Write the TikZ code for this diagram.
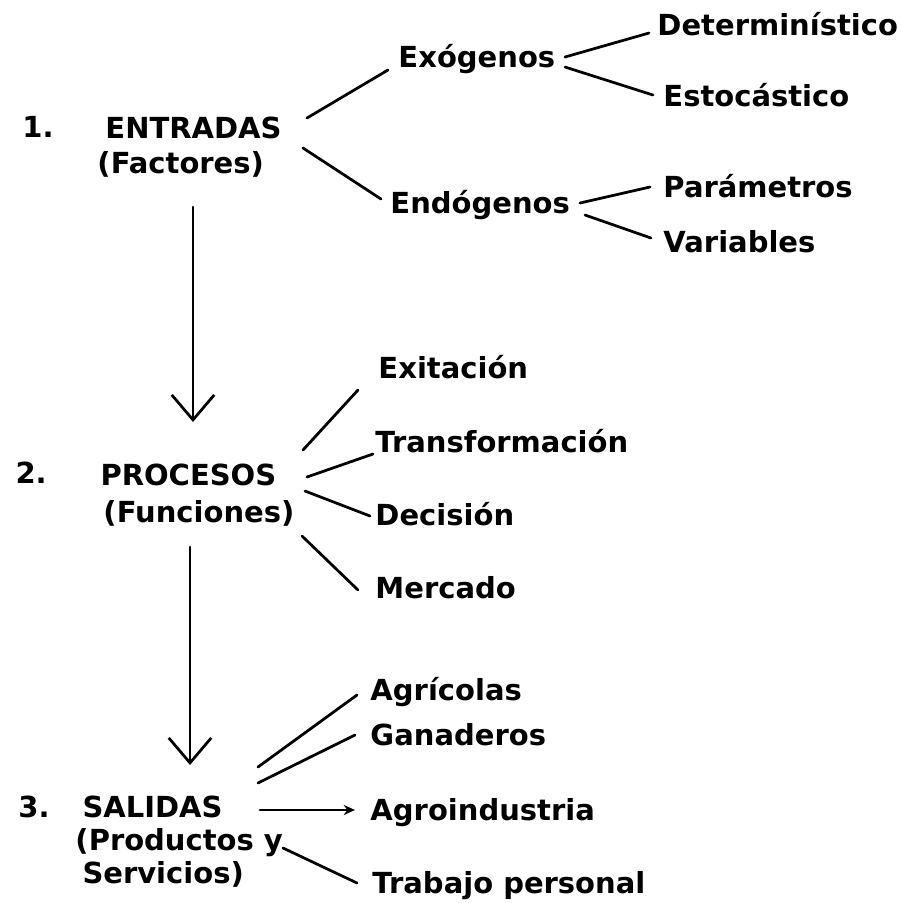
\documentclass[tikz,border=0pt]{standalone}
\usepackage{fontspec}
\setmainfont{DejaVu Sans}
\usepackage{tikz}
\usetikzlibrary{arrows.meta}

\tikzset{
	lbl/.style={anchor=base west, inner sep=0pt, font=\fontsize{11.6}{13}\selectfont\bfseries},
	ln/.style={line width=1.1pt, line cap=round},
	down/.style={ln, -{Straight Barb[length=10pt,width=17pt,line width=1.1pt]}},
	small/.style={ln, -{Stealth[length=4.5pt,width=4pt]}}
}

\begin{document}
\begin{tikzpicture}[x=0.4pt,y=-0.4pt]
			\useasboundingbox (0,0) rectangle (901,903);

			% 1. entradas
			\node[lbl] (n1) at (22,137) {1.};
			\node[lbl] (ent) at (105,138) {ENTRADAS};
			\node[lbl] (fac) at (97,173) {(Factores)};
			\node[lbl] (exo) at (398,67) {Exógenos};
			\node[lbl] (endo) at (390,213) {Endógenos};
			\node[lbl] (det) at (657,35) {Determinístico};
			\node[lbl] (est) at (663,106) {Estocástico};
			\node[lbl] (par) at (663,197) {Parámetros};
			\node[lbl] (var) at (663,252) {Variables};

			% 2. procesos
			\node[lbl] (n2) at (15,483) {2.};
			\node[lbl] (pro) at (100,485) {PROCESOS};
			\node[lbl] (fun) at (103,522) {(Funciones)};
			\node[lbl] (exi) at (378,378) {Exitación};
			\node[lbl] (tra) at (375,452) {Transformación};
			\node[lbl] (dec) at (375,525) {Decisión};
			\node[lbl] (mer) at (375,598) {Mercado};

			% 3. salidas
			\node[lbl] (n3) at (18,817) {3.};
			\node[lbl] (sal) at (82,817) {SALIDAS};
			\node[lbl] (prod) at (75,850) {(Productos y};
			\node[lbl] (serv) at (82,883) {Servicios)};
			\node[lbl] (agr) at (370,700) {Agrícolas};
			\node[lbl] (gan) at (370,745) {Ganaderos};
			\node[lbl] (agi) at (370,820) {Agroindustria};
			\node[lbl] (trab) at (372,893) {Trabajo personal};

			\draw[ln] ([shift={(202,-20)}]ent.base west) -- ([shift={(-10,3)}]exo.base west);
			\draw[ln] ([shift={(198,10)}]ent.base west) -- ([shift={(-9,-14)}]endo.base west);
			\draw[ln] ([shift={(167,-10)}]exo.base west) -- ([shift={(-8,-2)}]det.base west);
			\draw[ln] ([shift={(167,0)}]exo.base west) -- ([shift={(-10,-11)}]est.base west);
			\draw[ln] ([shift={(190,-10)}]endo.base west) -- ([shift={(-13,-10)}]par.base west);
			\draw[ln] ([shift={(195,2)}]endo.base west) -- ([shift={(-12,-14)}]var.base west);

			\draw[down] ([shift={(96,34)}]fac.base west) -- ([shift={(93,-63)}]pro.base west);

			\draw[ln] ([shift={(203,-35)}]pro.base west) -- ([shift={(-20,12)}]exi.base west);
			\draw[ln] ([shift={(207,-8)}]pro.base west) -- ([shift={(-2,2)}]tra.base west);
			\draw[ln] ([shift={(205,6)}]pro.base west) -- ([shift={(-5,-9)}]dec.base west);
			\draw[ln] ([shift={(202,51)}]pro.base west) -- ([shift={(-17,-8)}]mer.base west);

			\draw[down] ([shift={(87,25)}]fun.base west) -- ([shift={(108,-52)}]sal.base west);

			\draw[ln] ([shift={(176,-50)}]sal.base west) -- ([shift={(-13,-5)}]agr.base west);
			\draw[ln] ([shift={(176,-34)}]sal.base west) -- ([shift={(-15,-10)}]gan.base west);
			\draw[small] ([shift={(178,-7)}]sal.base west) -- ([shift={(-15,-10)}]agi.base west);
			\draw[ln] ([shift={(208,-2)}]prod.base west) -- ([shift={(-15,-10)}]trab.base west);

		\end{tikzpicture}
\end{document}
